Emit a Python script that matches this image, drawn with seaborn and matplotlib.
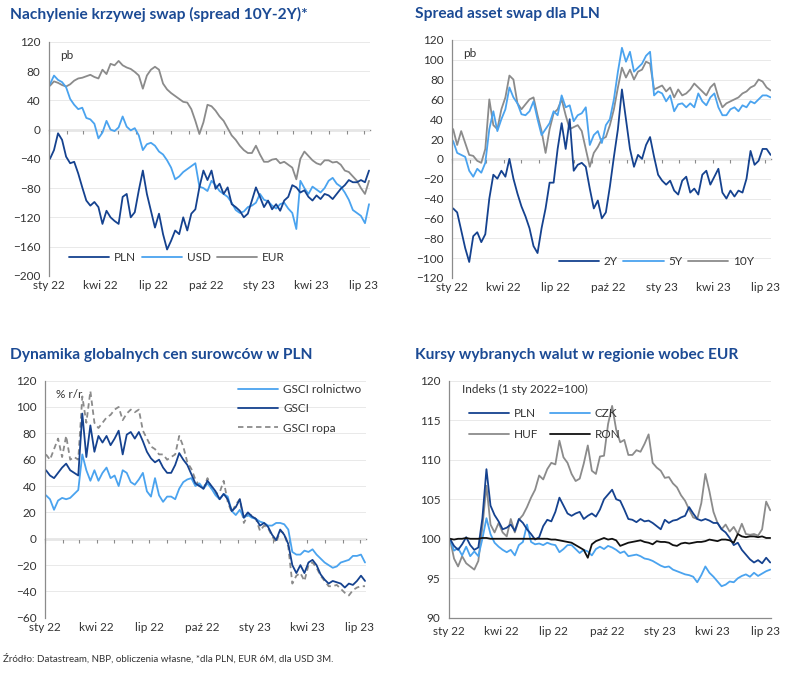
import pandas as pd
import seaborn as sns
import matplotlib.pyplot as plt
import matplotlib.dates as mdates
from matplotlib.ticker import FuncFormatter, MultipleLocator

# weekly observations, Jan 2022 - Jul 2023
dates = pd.date_range('2022-01-03', periods=80, freq='7D')

# --- Nachylenie krzywej swap (pb)
slope_pln = [-40, -28, -5, -14, -37, -46, -44, -60, -79, -97, -104, -99, -106, -129, -111, -120,
             -125, -129, -92, -88, -120, -113, -83, -56, -88, -111, -134, -115, -143, -164, -152, -138,
             -143, -120, -138, -115, -109, -79, -56, -69, -56, -81, -74, -88, -79, -102, -106, -111,
             -120, -115, -97, -79, -92, -106, -97, -109, -102, -111, -97, -92, -76, -79, -86, -83,
             -92, -97, -90, -95, -88, -90, -95, -88, -81, -76, -69, -72, -72, -69, -72, -56]
slope_usd = [62, 74, 68, 65, 58, 42, 34, 28, 30, 16, 14, 8, -12, -4, 12, 0,
             -2, 3, 18, 4, -1, 2, -8, -28, -20, -18, -22, -30, -34, -42, -52, -68,
             -64, -58, -54, -50, -46, -78, -80, -84, -70, -76, -84, -88, -92, -100, -110, -114,
             -112, -106, -104, -100, -88, -96, -98, -104, -108, -102, -100, -108, -114, -136, -70, -80,
             -88, -78, -82, -86, -80, -70, -66, -74, -78, -86, -96, -110, -114, -118, -128, -102]
slope_eur = [60, 66, 64, 61, 59, 62, 67, 70, 71, 73, 75, 72, 70, 82, 76, 90,
             88, 94, 88, 85, 83, 79, 74, 56, 74, 82, 86, 82, 63, 55, 50, 46,
             42, 38, 37, 28, 12, -6, 10, 34, 32, 26, 18, 12, 2, -8, -14, -22,
             -28, -32, -32, -22, -34, -44, -44, -41, -40, -46, -44, -48, -52, -68, -40, -30,
             -36, -42, -46, -48, -42, -42, -45, -44, -48, -56, -58, -64, -70, -80, -88, -70]

# --- Spread asset swap dla PLN (pb)
asw_2y = [-50, -54, -72, -90, -104, -78, -74, -84, -76, -40, -16, -20, -12, -18, 0, -20,
          -35, -48, -58, -70, -88, -95, -70, -50, -24, -24, 10, 36, 10, 40, -12, -6,
          -4, -8, -30, -50, -42, -60, -54, -28, 2, 30, 70, 40, 10, -8, 4, 0,
          14, 22, 2, -16, -22, -26, -22, -32, -36, -22, -18, -34, -30, -36, -16, -12,
          -26, -18, -10, -34, -40, -32, -38, -32, -34, -20, 8, -6, -2, 10, 10, 4]
asw_5y = [18, 6, 4, 2, -12, -18, -10, -14, -4, 30, 48, 28, 40, 50, 72, 62,
          56, 45, 44, 48, 58, 40, 24, 30, 36, 48, 44, 64, 52, 54, 38, 44,
          46, 52, 14, 24, 28, 16, 34, 40, 60, 88, 112, 98, 108, 88, 92, 96,
          104, 108, 64, 68, 66, 58, 64, 48, 55, 56, 52, 56, 52, 66, 58, 54,
          62, 66, 52, 44, 44, 50, 52, 48, 54, 52, 58, 56, 60, 64, 64, 62]
asw_10y = [30, 14, 28, 16, 4, 3, -2, -4, 10, 60, 34, 30, 50, 62, 84, 80,
           56, 50, 55, 60, 62, 44, 28, 6, 30, 46, 50, 60, 44, 30, 32, 34,
           28, 10, -8, 6, 12, 20, 22, 34, 50, 72, 92, 82, 90, 80, 88, 90,
           98, 96, 70, 72, 74, 68, 72, 62, 70, 64, 66, 70, 76, 72, 68, 64,
           72, 76, 62, 52, 56, 58, 60, 62, 66, 68, 72, 74, 80, 78, 72, 69]

# --- Dynamika globalnych cen surowcow w PLN (% r/r)
gsci_agri = [33, 30, 22, 29, 31, 30, 31, 34, 37, 64, 52, 44, 52, 44, 50, 54,
             46, 48, 40, 52, 50, 43, 41, 45, 50, 36, 32, 46, 33, 28, 32, 32,
             30, 38, 43, 45, 46, 40, 42, 38, 42, 38, 33, 30, 34, 32, 21, 18,
             22, 16, 18, 16, 15, 13, 12, 10, 10, 12, 12, 11, 7, -10, -12, -12,
             -9, -10, -8, -12, -15, -18, -20, -22, -21, -18, -17, -16, -13, -13, -12, -18]
gsci_all = [52, 48, 46, 50, 54, 57, 52, 50, 48, 95, 62, 86, 66, 78, 73, 78,
            71, 76, 82, 64, 79, 81, 76, 81, 74, 66, 61, 58, 60, 54, 50, 50,
            56, 65, 60, 56, 49, 42, 40, 38, 44, 40, 36, 30, 34, 30, 21, 24,
            30, 16, 20, 17, 15, 10, 12, 9, 3, -1, 7, 3, -4, -20, -26, -20,
            -26, -18, -16, -20, -27, -31, -34, -32, -33, -34, -37, -34, -35, -32, -28, -32]
gsci_oil = [64, 60, 68, 76, 62, 78, 60, 62, 60, 108, 88, 112, 88, 84, 88, 92,
            94, 98, 100, 90, 95, 98, 96, 98, 82, 76, 70, 68, 64, 64, 60, 62,
            64, 78, 70, 58, 53, 45, 40, 38, 46, 38, 34, 35, 44, 28, 20, 26,
            30, 12, 18, 18, 15, 6, 10, 8, 2, -3, 6, 4, -6, -34, -28, -26,
            -32, -20, -18, -22, -28, -32, -36, -36, -35, -38, -41, -43, -39, -37, -36, -36]

# --- Kursy walut wobec EUR (1 sty 2022 = 100)
fx_pln = [100.0, 99.1, 98.6, 99.3, 100.2, 99.2, 98.6, 98.9, 102.6, 108.8, 104.2, 103.0, 102.2, 101.2, 101.4, 101.8,
          101.0, 102.5, 102.0, 101.2, 100.6, 99.9, 100.2, 101.6, 102.4, 102.2, 103.4, 105.2, 104.2, 103.2, 102.9, 103.2,
          103.4, 102.5, 102.9, 103.2, 102.8, 103.7, 105.0, 105.6, 106.2, 105.0, 104.8, 103.7, 102.5, 102.4, 102.1, 102.5,
          102.2, 102.3, 102.0, 101.6, 101.2, 102.4, 102.0, 102.3, 102.4, 102.7, 102.9, 104.0, 103.2, 102.5, 102.3, 102.5,
          102.3, 102.0, 102.0, 101.2, 100.8, 100.1, 99.2, 99.5, 98.6, 98.0, 97.4, 97.0, 97.3, 96.9, 97.6, 97.0]
fx_czk = [100.0, 98.5, 98.8, 97.9, 99.0, 97.8, 98.4, 97.8, 100.0, 102.6, 100.6, 99.5, 99.0, 98.6, 98.3, 98.6,
          97.9, 99.2, 99.6, 101.8, 99.6, 99.3, 99.4, 99.2, 99.5, 99.3, 99.2, 98.3, 98.7, 99.2, 99.2, 98.7,
          98.2, 98.6, 98.4, 97.9, 98.7, 99.0, 98.7, 99.1, 98.9, 98.6, 98.2, 98.4, 97.8, 97.9, 98.0, 97.8,
          97.5, 97.4, 97.2, 96.9, 96.6, 96.4, 96.5, 96.1, 95.9, 95.7, 95.5, 95.4, 95.2, 94.5, 95.4, 96.5,
          95.7, 95.2, 94.6, 94.0, 94.2, 94.6, 94.5, 95.0, 95.3, 95.5, 95.2, 95.7, 95.3, 95.6, 95.9, 96.1]
fx_huf = [100.0, 97.5, 96.5, 97.8, 96.9, 96.5, 96.1, 97.2, 101.5, 106.7, 101.8, 100.8, 102.0, 100.8, 100.3, 102.5,
          100.8, 102.4, 103.0, 104.0, 105.2, 106.2, 108.0, 107.5, 108.8, 109.6, 109.4, 112.4, 110.3, 109.6, 108.2, 107.3,
          107.6, 109.5, 111.8, 108.6, 108.2, 110.4, 110.5, 114.5, 116.8, 113.8, 112.2, 112.5, 110.6, 110.6, 111.2, 111.0,
          112.0, 113.2, 109.6, 109.0, 108.6, 107.7, 107.8, 107.0, 106.5, 105.5, 104.8, 103.7, 102.7, 102.5, 104.5, 108.2,
          106.0, 103.4, 102.0, 101.2, 101.8, 100.9, 101.5, 100.6, 101.9, 100.6, 100.5, 100.6, 100.4, 101.2, 104.7, 103.6]
fx_ron = [100.0, 99.9, 100.0, 100.0, 100.1, 100.0, 100.0, 100.0, 100.1, 100.1, 100.0, 100.0, 100.0, 100.0, 100.0, 100.0,
          100.0, 100.0, 100.0, 100.0, 100.0, 100.0, 100.0, 100.0, 100.0, 99.9, 99.9, 99.8, 99.7, 99.6, 99.5, 99.2,
          98.9, 98.6, 97.6, 99.3, 99.7, 99.9, 100.1, 99.9, 100.0, 99.8, 99.1, 99.3, 99.5, 99.6, 99.7, 99.8,
          99.6, 99.5, 99.3, 99.7, 99.6, 99.6, 99.5, 99.2, 99.1, 99.4, 99.5, 99.4, 99.5, 99.6, 99.6, 99.7,
          99.9, 99.8, 99.7, 99.9, 99.9, 99.8, 99.5, 100.6, 100.3, 100.2, 100.3, 100.3, 100.2, 100.3, 100.1, 100.1]

MONTHS_PL = {1: 'sty', 4: 'kwi', 7: 'lip', 10: 'paź'}

NAVY = '#15428f'
LIGHT = '#4aa3ef'
GREY = '#8b8b8b'
TITLE = '#1b4a94'
TXT = '#333333'


def long_frame(series):
    frames = [pd.DataFrame({'date': dates, 'value': vals, 'series': name}) for name, vals in series.items()]
    return pd.concat(frames, ignore_index=True)


def style_axes(ax, ylim, ystep, zero_line=True):
    ax.set_xlim(pd.Timestamp('2022-01-01'), pd.Timestamp('2023-07-11'))
    ax.set_ylim(*ylim)
    ax.yaxis.set_major_locator(MultipleLocator(ystep))
    ax.xaxis.set_major_locator(mdates.MonthLocator(bymonth=(1, 4, 7, 10)))
    ax.xaxis.set_major_formatter(FuncFormatter(
        lambda x, pos: f"{MONTHS_PL[mdates.num2date(x).month]} {mdates.num2date(x):%y}"))
    ax.grid(axis='y', color='#e9e9e9', lw=0.7)
    ax.grid(axis='x', visible=False)
    for s in ['top', 'right']:
        ax.spines[s].set_visible(False)
    ax.spines['left'].set_color(GREY)
    ax.spines['left'].set_linewidth(0.9)
    ax.tick_params(axis='y', length=4, width=0.8, color=GREY, labelsize=8.5, labelcolor=TXT, pad=2)
    ax.tick_params(axis='x', labelsize=8.5, labelcolor=TXT, pad=3)
    ax.set_xlabel('')
    ax.set_ylabel('')
    if zero_line:
        # x axis drawn through zero, labels stay at the bottom
        ax.spines['bottom'].set_visible(False)
        ax.tick_params(axis='x', length=0)
        loc = (0 - ylim[0]) / (ylim[1] - ylim[0])
        sec = ax.secondary_xaxis(loc)
        sec.set_alignment('bottom')
        sec.xaxis.set_major_locator(mdates.MonthLocator())
        sec.tick_params(axis='x', labelbottom=False, labeltop=False, length=3, width=0.8,
                        color=GREY, direction='out')
        sec.spines['bottom'].set_color(GREY)
        sec.spines['bottom'].set_linewidth(1.0)
    else:
        ax.spines['bottom'].set_color(GREY)
        ax.spines['bottom'].set_linewidth(0.9)
        ax.xaxis.set_minor_locator(mdates.MonthLocator())
        ax.tick_params(axis='x', which='both', length=3, width=0.8, color=GREY)
    ax.set_axisbelow(True)


sns.set_theme(style='white')
plt.rcParams['font.family'] = ['Lato', 'DejaVu Sans']

fig = plt.figure(figsize=(8, 6.76), dpi=100)
ax1 = fig.add_axes([0.061, 0.592, 0.401, 0.346])
ax2 = fig.add_axes([0.565, 0.589, 0.399, 0.352])
ax3 = fig.add_axes([0.056, 0.086, 0.401, 0.351])
ax4 = fig.add_axes([0.561, 0.086, 0.4025, 0.351])

leg_kw = dict(frameon=False, fontsize=8.5, handlelength=3.4, handletextpad=0.4, labelcolor=TXT)

# panel 1
df1 = long_frame({'PLN': slope_pln, 'USD': slope_usd, 'EUR': slope_eur})
sns.lineplot(data=df1, x='date', y='value', hue='series', hue_order=['EUR', 'USD', 'PLN'],
             palette={'PLN': NAVY, 'USD': LIGHT, 'EUR': GREY}, lw=1.3, ax=ax1)
style_axes(ax1, (-200, 120), 40)
h, l = ax1.get_legend_handles_labels()
hd = dict(zip(l, h))
ax1.legend([hd[k] for k in ['PLN', 'USD', 'EUR']], ['PLN', 'USD', 'EUR'], ncol=3,
           loc='lower left', bbox_to_anchor=(0.03, 0.01), columnspacing=0.5, **leg_kw)
ax1.text(0.035, 0.965, 'pb', transform=ax1.transAxes, va='top', fontsize=8.5, color=TXT)

# panel 2
df2 = long_frame({'2Y': asw_2y, '5Y': asw_5y, '10Y': asw_10y})
sns.lineplot(data=df2, x='date', y='value', hue='series', hue_order=['10Y', '5Y', '2Y'],
             palette={'2Y': NAVY, '5Y': LIGHT, '10Y': GREY}, lw=1.3, ax=ax2)
style_axes(ax2, (-120, 120), 20)
h, l = ax2.get_legend_handles_labels()
hd = dict(zip(l, h))
ax2.legend([hd[k] for k in ['2Y', '5Y', '10Y']], ['2Y', '5Y', '10Y'], ncol=3,
           loc='lower right', bbox_to_anchor=(0.98, 0.0), columnspacing=0.5, **leg_kw)
ax2.text(0.035, 0.965, 'pb', transform=ax2.transAxes, va='top', fontsize=8.5, color=TXT)

# panel 3
df3 = long_frame({'GSCI rolnictwo': gsci_agri, 'GSCI': gsci_all, 'GSCI ropa': gsci_oil})
order3 = ['GSCI rolnictwo', 'GSCI', 'GSCI ropa']
sns.lineplot(data=df3, x='date', y='value', hue='series', hue_order=['GSCI ropa', 'GSCI rolnictwo', 'GSCI'],
             style='series', dashes={'GSCI rolnictwo': '', 'GSCI': '', 'GSCI ropa': (3, 2)},
             palette={'GSCI rolnictwo': LIGHT, 'GSCI': NAVY, 'GSCI ropa': GREY}, lw=1.3, ax=ax3)
style_axes(ax3, (-60, 120), 20)
h, l = ax3.get_legend_handles_labels()
hd = dict(zip(l, h))
ax3.legend([hd[k] for k in order3], order3, ncol=1, loc='upper right',
           bbox_to_anchor=(1.02, 1.03), labelspacing=0.7, **leg_kw)
ax3.text(0.035, 0.965, '% r/r', transform=ax3.transAxes, va='top', fontsize=8.5, color=TXT)

# panel 4
df4 = long_frame({'PLN': fx_pln, 'CZK': fx_czk, 'HUF': fx_huf, 'RON': fx_ron})
sns.lineplot(data=df4, x='date', y='value', hue='series', hue_order=['HUF', 'CZK', 'PLN', 'RON'],
             palette={'PLN': NAVY, 'CZK': LIGHT, 'HUF': GREY, 'RON': '#111111'}, lw=1.3, ax=ax4)
style_axes(ax4, (90, 120), 5, zero_line=False)
h, l = ax4.get_legend_handles_labels()
hd = dict(zip(l, h))
ax4.legend([hd[k] for k in ['PLN', 'HUF', 'CZK', 'RON']], ['PLN', 'HUF', 'CZK', 'RON'], ncol=2,
           loc='upper left', bbox_to_anchor=(0.03, 0.93), columnspacing=1.0, labelspacing=0.9, **leg_kw)
ax4.text(0.04, 0.985, 'Indeks (1 sty 2022=100)', transform=ax4.transAxes, va='top', fontsize=8.5, color=TXT)

# titles and source
title_kw = dict(fontsize=11.2, fontweight='bold', color=TITLE, va='center', ha='left')
fig.text(0.012, 0.979, 'Nachylenie krzywej swap (spread 10Y-2Y)*', **title_kw)
fig.text(0.519, 0.979, 'Spread asset swap dla PLN', **title_kw)
fig.text(0.012, 0.475, 'Dynamika globalnych cen surowców w PLN', **title_kw)
fig.text(0.519, 0.475, 'Kursy wybranych walut w regionie wobec EUR', **title_kw)
fig.text(0.004, 0.026, 'Źródło: Datastream, NBP, obliczenia własne, *dla PLN, EUR 6M, dla USD 3M.',
         fontsize=7, color=TXT, va='center', ha='left')

fig.savefig('out.png', dpi=100)
